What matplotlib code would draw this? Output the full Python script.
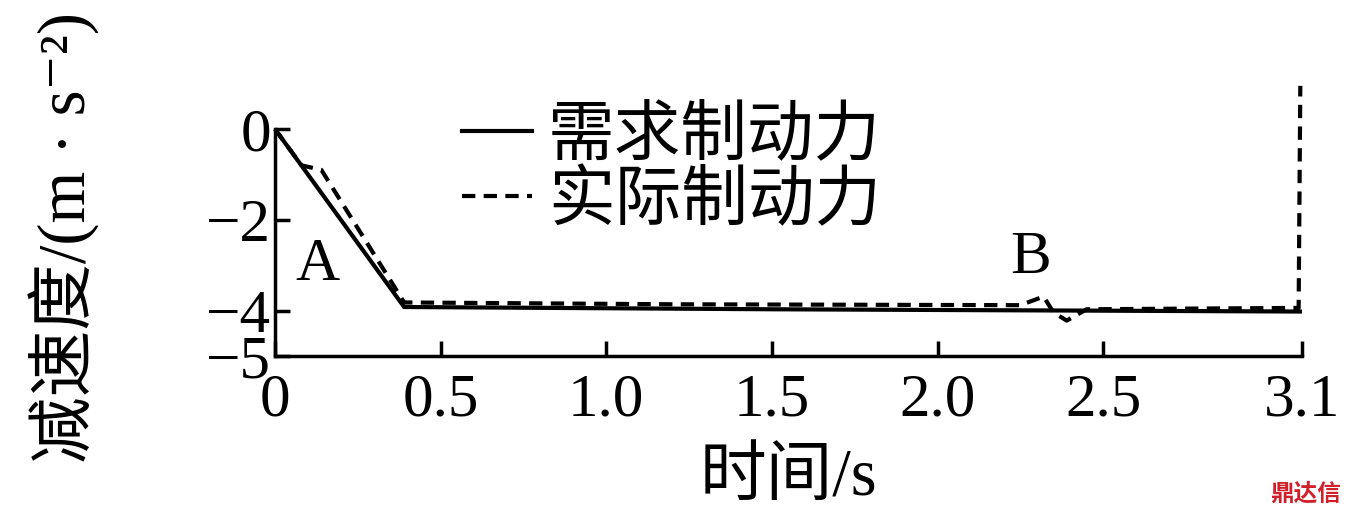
import numpy as np
import matplotlib.pyplot as plt

plt.rcParams['font.family'] = ['Liberation Serif', 'Noto Sans CJK SC', 'DejaVu Serif']
plt.rcParams['axes.unicode_minus'] = True

# demand braking curve (solid)
t_need = [0, 0.39, 1.5, 3.1]
a_need = [0, -3.92, -3.97, -4.02]

# actual braking curve (dashed)
t_real = [0, 0.08, 0.14, 0.39, 1.2, 2.25, 2.32, 2.35, 2.39, 2.45, 3.09, 3.095]
a_real = [0, -0.8, -0.9, -3.82, -3.86, -3.88, -3.69, -4.04, -4.22, -3.97, -3.94, 0.95]

xticks = [0, 0.5, 1.0, 1.5, 2.0, 2.5, 3.1]
xlabels = ["0", "0.5", "1.0", "1.5", "2.0", "2.5", "3.1"]
yticks = [0, -2, -4, -5]
ylabels = ["0", "\u22122", "\u22124", "\u22125"]

fs = 44

fig = plt.figure(figsize=(13.51, 5.16), dpi=100)
ax = fig.add_axes([0.2035, 0.31, 0.7602, 0.44])

ax.plot(t_need, a_need, color='black', lw=3, label="需求制动力", solid_joinstyle='miter')
ax.plot(t_real, a_real, color='black', lw=3, ls=(0, (3.2, 2)), label="实际制动力", clip_on=False)

ax.set_xlim(0, 3.1)
ax.set_ylim(-5, 0)
ax.set_xticks(xticks)
ax.set_xticklabels(xlabels)
ax.set_yticks(yticks)
ax.set_yticklabels(ylabels)
ax.tick_params(direction='in', length=11, width=2.5, labelsize=fs, pad=12)
ax.tick_params(axis='y', pad=3)

for s in ['top', 'right']:
    ax.spines[s].set_visible(False)
for s in ['left', 'bottom']:
    ax.spines[s].set_linewidth(2.5)

ax.set_xlabel("时间/s", fontsize=48, labelpad=14)
ax.set_ylabel("减速度/(m · s\u207b\u00b2)", fontsize=48)
ax.yaxis.set_label_coords(-0.17, 0.52)

ax.text(0.13, -3.0, "A", fontsize=fs, ha='center', va='center')
ax.text(2.28, -2.85, "B", fontsize=fs, ha='center', va='center')

ax.legend(loc='upper left', bbox_to_anchor=(0.182, 1.1), frameon=False,
          fontsize=48, handlelength=1.05, handletextpad=0.24, labelspacing=0.05,
          borderpad=0, borderaxespad=0)

fig.text(0.993, 0.02, "鼎达信", color='#d0202a', fontsize=17, ha='right', va='bottom',
         family=['Noto Sans CJK SC'], fontweight='bold')

fig.savefig("out.png", dpi=100)
